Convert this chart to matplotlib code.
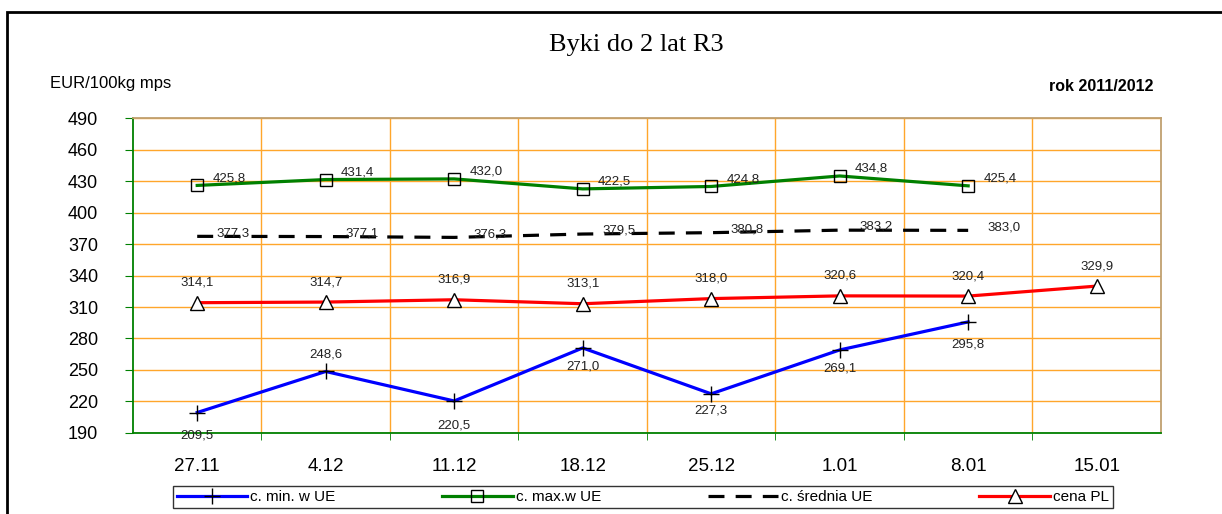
import numpy as np
import matplotlib.pyplot as plt
from matplotlib.patches import Rectangle

# dane
dates = ['27.11', '4.12', '11.12', '18.12', '25.12', '1.01', '8.01', '15.01']
c_min = [209.5, 248.6, 220.5, 271.0, 227.3, 269.1, 295.8]
c_max = [425.8, 431.4, 432.0, 422.5, 424.8, 434.8, 425.4]
c_sr = [377.3, 377.1, 376.3, 379.5, 380.8, 383.2, 383.0]
cena_pl = [314.1, 314.7, 316.9, 313.1, 318.0, 320.6, 320.4, 329.9]
y_ticks = [190, 220, 250, 280, 310, 340, 370, 400, 430, 460, 490]

# przesuniecia etykiet (w punktach) dla c. min.
min_off = [-12, 8, -13, -9, -8, -9, -12]

plt.rcParams['font.family'] = ['Liberation Sans', 'DejaVu Sans']

fig = plt.figure(figsize=(12.22, 5.14), dpi=100)
ax = fig.add_axes([0.1088, 0.1576, 0.8412, 0.6128])

x = np.arange(len(dates))
ln_min, = ax.plot(x[:len(c_min)], c_min, color='#0000FF', lw=2.3, marker='+',
                  ms=11, mec='black', mew=1, label='c. min. w UE', zorder=5)
ln_max, = ax.plot(x[:len(c_max)], c_max, color='#008000', lw=2.3, marker='s',
                  ms=8, mfc='none', mec='black', mew=1, label='c. max.w UE', zorder=5)
ln_sr, = ax.plot(x[:len(c_sr)], c_sr, color='black', lw=2.3, ls=(0, (5, 3.5)),
                 label='c. średnia UE', zorder=5)
ln_pl, = ax.plot(x, cena_pl, color='#FF0000', lw=2.3, marker='^', ms=10,
                 mfc='white', mec='black', mew=1, label='cena PL', zorder=5)

def fmt(v):
    return f'{v:.1f}'.replace('.', ',')

lab_kw = dict(textcoords='offset points', fontsize=9.5, color='#222222', zorder=6)
for i, v in enumerate(c_max):
    ax.annotate(fmt(v), (x[i], v), xytext=(11, 1), ha='left', va='bottom', **lab_kw)
for i, v in enumerate(c_sr):
    ax.annotate(fmt(v), (x[i], v), xytext=(26, -2), ha='center', va='bottom', **lab_kw)
for i, v in enumerate(cena_pl):
    ax.annotate(fmt(v), (x[i], v), xytext=(0, 10), ha='center', va='bottom', **lab_kw)
for i, v in enumerate(c_min):
    ax.annotate(fmt(v), (x[i], v), xytext=(0, min_off[i]), ha='center',
                va='bottom' if min_off[i] > 0 else 'top', **lab_kw)

ax.set_xlim(-0.5, len(dates) - 0.5)
ax.set_ylim(190, 490)
ax.set_yticks(y_ticks)
ax.set_xticks(x)
ax.set_xticklabels(dates, fontsize=13.5)
ax.set_xticks(np.arange(0.5, len(dates) - 1, 1), minor=True)
ax.tick_params(axis='x', which='major', length=0, pad=18)
ax.tick_params(axis='x', which='minor', length=5, color='#008000', direction='out')
ax.tick_params(axis='y', length=6, color='#008000', labelsize=13, pad=19)
for lab in ax.get_yticklabels():
    lab.set_horizontalalignment('right')

ax.grid(axis='y', which='major', color='#FFA62B', lw=1)
ax.grid(axis='x', which='minor', color='#FFA62B', lw=1)
ax.set_axisbelow(True)
ax.spines['left'].set_color('#008000')
ax.spines['bottom'].set_color('#008000')
ax.spines['top'].set_color('#C0A070')
ax.spines['right'].set_color('#C0A070')
for s in ax.spines.values():
    s.set_linewidth(1.3)

fig.text(0.521, 0.912, 'Byki do 2 lat R3', family='Liberation Serif',
         fontsize=19, ha='center', va='center')
fig.text(0.041, 0.837, 'EUR/100kg mps', fontsize=12, ha='left', va='center')
fig.text(0.944, 0.832, 'rok 2011/2012', fontsize=11.5, fontweight='bold',
         ha='right', va='center')

leg = fig.legend(handles=[ln_min, ln_max, ln_sr, ln_pl], loc='center',
                 bbox_to_anchor=(0.526, 0.033), ncol=4, fontsize=11,
                 frameon=True, fancybox=False, edgecolor='black',
                 handlelength=4.6, columnspacing=7, borderpad=0.25,
                 handletextpad=0.2, borderaxespad=0)
leg.get_frame().set_linewidth(1)

fig.patches.append(Rectangle((0.0057, -0.05), 1.1, 0.9767 + 0.05,
                             transform=fig.transFigure, fill=False,
                             edgecolor='black', lw=2))

fig.savefig('out.png', dpi=100)
